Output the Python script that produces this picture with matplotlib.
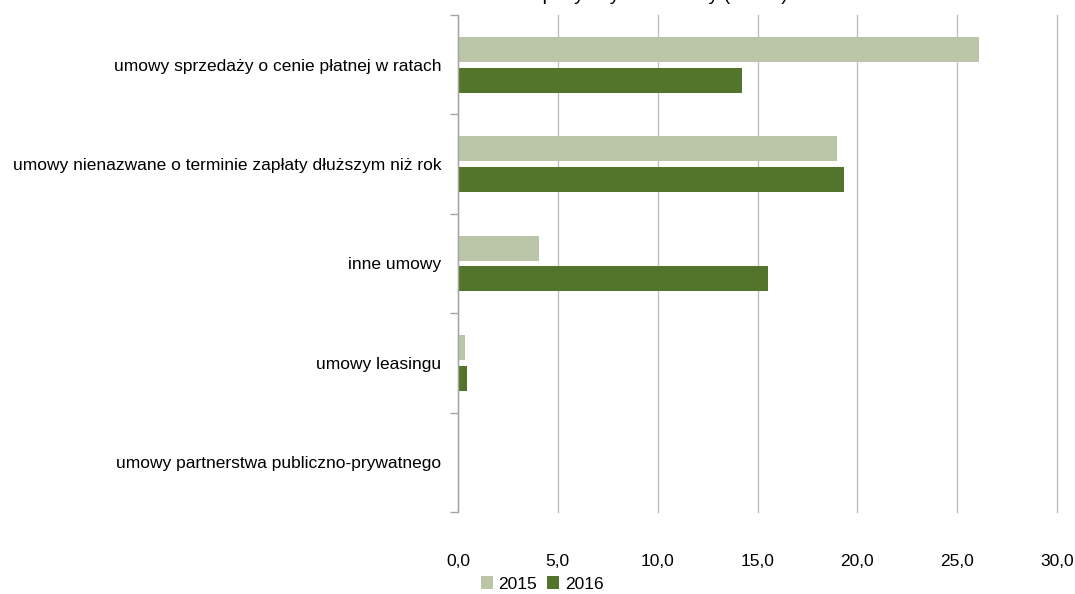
import numpy as np
import matplotlib.pyplot as plt
from matplotlib.font_manager import fontManager

categories = ['umowy sprzedaży o cenie płatnej w ratach',
              'umowy nienazwane o terminie zapłaty dłuższym niż rok',
              'inne umowy',
              'umowy leasingu',
              'umowy partnerstwa publiczno-prywatnego']
v2015 = [26.1, 19.0, 4.05, 0.35, 0.0]
v2016 = [14.2, 19.35, 15.55, 0.45, 0.0]
xticks = [0, 5, 10, 15, 20, 25, 30]
title = 'Kwota zapłaty z tytułu umowy (mln zł)'

names = {f.name for f in fontManager.ttflist}
fam = ['Liberation Sans Narrow', 'Liberation Sans', 'DejaVu Sans']
fam = [f for f in fam if f in names] or ['DejaVu Sans']
plt.rcParams['font.family'] = fam

c15 = '#bbc6a8'
c16 = '#52752b'

fig = plt.figure(figsize=(10.75, 5.94), dpi=100)
ax = fig.add_axes([458/1075, 1-512/594, (1057-458)/1075, (512-15)/594])

n = len(categories)
y = np.arange(n)
h = 0.25
ax.barh(y - 0.155, v2015, height=h, color=c15, linewidth=0, label='2015', zorder=3)
ax.barh(y + 0.155, v2016, height=h, color=c16, linewidth=0, label='2016', zorder=3)

ax.set_ylim(n - 0.5, -0.5)
ax.set_xlim(0, 30)
ax.set_xticks(xticks)
ax.set_xticklabels([f'{t:.1f}'.replace('.', ',') for t in xticks], fontsize=12.5)
ax.tick_params(axis='x', length=0, pad=30)
ax.grid(axis='x', color='#bfbfbf', linewidth=1, zorder=0)
for gl in ax.xaxis.get_gridlines():
    gl.set_clip_on(False)

ax.set_yticks(np.arange(-0.5, n, 1), minor=False)
ax.set_yticklabels([])
ax.tick_params(axis='y', which='major', length=6, color='#a6a6a6', width=1)
ax.set_yticks(y, minor=True)
ax.set_yticklabels(categories, minor=True, fontsize=12.5)
ax.tick_params(axis='y', which='minor', length=0, pad=12)

for s in ['top', 'right', 'bottom']:
    ax.spines[s].set_visible(False)
ax.spines['left'].set_color('#a6a6a6')
ax.spines['left'].set_linewidth(1)
ax.spines['left'].set_zorder(4)

fig.legend(loc='center', bbox_to_anchor=(542/1075, 1-584/594), ncol=2, frameon=False,
           fontsize=12.5, handlelength=0.7, handleheight=0.7, handletextpad=0.3,
           columnspacing=0.6)

# title sits above the canvas, only the descenders show, as in the source image
fig.text(625/1075, 1+0.5/594, title, ha='center', va='baseline', fontsize=14)

fig.savefig('out.png', dpi=100)
